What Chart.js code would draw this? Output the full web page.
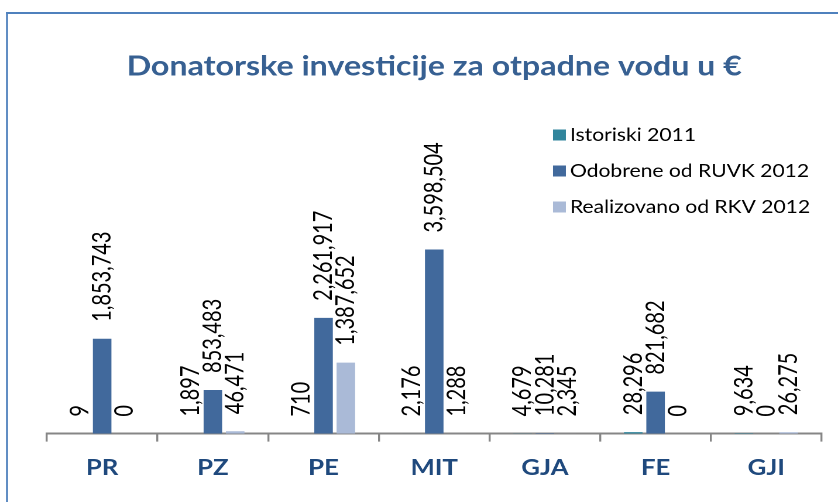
<!DOCTYPE html>
<html lang="sq">
<head>
<meta charset="UTF-8">
<title>Donatorske investicije za otpadne vodu</title>
<style>
  html, body { margin: 0; padding: 0; background: #fff; overflow: hidden; }
  /* the source picture is stretched sideways, so draw narrow and stretch */
  .wrap {
    position: absolute; left: 0; top: 0;
    width: 716px; height: 502px;
    transform: scaleX(1.1704);
    transform-origin: 0 0;
  }
</style>
<script src="https://cdn.jsdelivr.net/npm/chart.js@4"></script>
</head>
<body>
<div class="wrap"><canvas id="chart"></canvas></div>
<script>
const categories = ['PR', 'PZ', 'PE', 'MIT', 'GJA', 'FE', 'GJI'];
const istoriski2011 = [9, 1897, 710, 2176, 4679, 28296, 9634];
const odobrene2012 = [1853743, 853483, 2261917, 3598504, 10281, 821682, 0];
const realizovano2012 = [0, 46471, 1387652, 1288, 2345, 0, 26275];
const seriesNames = ['Istoriski 2011', 'Odobrene od RUVK 2012', 'Realizovano od RKV 2012'];
const seriesColors = ['#31859C', '#41699C', '#AABAD7'];

const STRETCH = 1.1704;

// blue frame round the chart (cut off at right and bottom)
const framePlugin = {
  id: 'frame',
  beforeDraw(chart) {
    const ctx = chart.ctx;
    ctx.save();
    ctx.fillStyle = '#4F81BD';
    ctx.fillRect(6 / STRETCH, 12, 2 / STRETCH, chart.height);
    ctx.fillRect(6 / STRETCH, 12, chart.width, 2);
    ctx.restore();
  }
};

// rotated value labels above each bar
const barLabels = {
  id: 'barLabels',
  afterDatasetsDraw(chart) {
    const ctx = chart.ctx;
    ctx.save();
    ctx.font = '20px Lato';
    ctx.fillStyle = '#000';
    ctx.textAlign = 'left';
    ctx.textBaseline = 'middle';
    chart.data.datasets.forEach((ds, i) => {
      chart.getDatasetMeta(i).data.forEach((bar, j) => {
        ctx.save();
        ctx.translate(bar.x, bar.y - 17);
        ctx.rotate(-Math.PI / 2);
        ctx.scale(1, 1.12); // glyphs a bit taller, like the source
        ctx.fillText(ds.data[j].toLocaleString('en-US'), 0, 0);
        ctx.restore();
      });
    });
    ctx.restore();
  }
};

// legend sits inside the plot, top right, one item per row
const sideLegend = {
  id: 'sideLegend',
  afterDraw(chart) {
    const ctx = chart.ctx;
    const x = 553 / STRETCH;
    const rows = [135, 171, 207];
    ctx.save();
    ctx.font = '18px Lato';
    ctx.textBaseline = 'middle';
    ctx.textAlign = 'left';
    chart.data.datasets.forEach((ds, i) => {
      ctx.fillStyle = ds.backgroundColor;
      ctx.fillRect(x, rows[i] - 5.5, 11, 11);
      ctx.fillStyle = '#000';
      ctx.fillText(ds.label, x + 14.5, rows[i]);
    });
    ctx.restore();
  }
};

new Chart(document.getElementById('chart'), {
  type: 'bar',
  data: {
    labels: categories,
    datasets: [
      { label: seriesNames[0], data: istoriski2011, backgroundColor: seriesColors[0] },
      { label: seriesNames[1], data: odobrene2012, backgroundColor: seriesColors[1] },
      { label: seriesNames[2], data: realizovano2012, backgroundColor: seriesColors[2] }
    ]
  },
  options: {
    responsive: true,
    maintainAspectRatio: false,
    animation: false,
    devicePixelRatio: 2,
    categoryPercentage: 0.605,
    barPercentage: 0.83,
    layout: { padding: { left: 40, right: 14, top: 0, bottom: 8 } },
    plugins: {
      legend: { display: false },
      tooltip: { enabled: false },
      title: {
        display: true,
        text: 'Donatorske investicije za otpadne vodu u €',
        color: '#376092',
        font: { family: 'Lato', weight: 'bold', size: 27.5 },
        padding: { top: 50, bottom: 146 }
      }
    },
    scales: {
      x: {
        border: { color: '#868686', width: 2 },
        grid: { drawOnChartArea: false, offset: true, tickLength: 8, color: '#868686', lineWidth: 1.7 },
        ticks: { color: '#1F497D', padding: 13, font: { family: 'Lato', weight: 'bold', size: 22 } }
      },
      y: { display: false, min: 0, max: 4000000 }
    }
  },
  plugins: [framePlugin, barLabels, sideLegend]
});
</script>
</body>
</html>
